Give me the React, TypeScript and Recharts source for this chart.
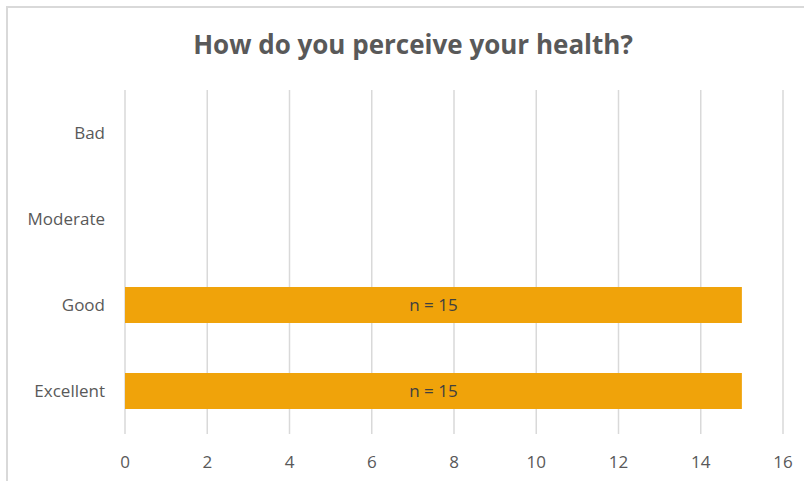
import { BarChart, Bar, XAxis, YAxis, CartesianGrid, LabelList } from 'recharts';

const categories = ['Bad', 'Moderate', 'Good', 'Excellent'];
const counts = [0, 0, 15, 15];
const xTicks = [0, 2, 4, 6, 8, 10, 12, 14, 16];

const rows = categories.map((name, i) => ({ name, count: counts[i] }));

const FONT = '"Open Sans", "Liberation Sans", sans-serif';
const TEXT = '#595959';

export default function App() {
  return (
    <div style={{ position: 'absolute', left: 0, top: 0, width: 804, height: 481, background: '#fff', overflow: 'hidden', fontFamily: FONT }}>
      <div
        style={{
          position: 'absolute',
          left: 6,
          top: 6,
          width: 900,
          height: 600,
          borderLeft: '2px solid #d9d9d9',
          borderTop: '2px solid #d9d9d9',
        }}
      />
      <div
        style={{
          position: 'absolute',
          left: 0,
          width: 826,
          top: 26,
          textAlign: 'center',
          fontSize: 26,
          fontWeight: 700,
          color: TEXT,
        }}
      >
        How do you perceive your health?
      </div>
      <BarChart
        width={804}
        height={481}
        data={rows}
        layout="vertical"
        margin={{ top: 90, right: 21, bottom: 17, left: 0 }}
        style={{ position: 'absolute', left: 0, top: 0 }}
      >
        <CartesianGrid horizontal={false} stroke="#d9d9d9" strokeWidth={1.5} />
        <XAxis
          type="number"
          domain={[0, 16]}
          ticks={xTicks}
          axisLine={false}
          tickLine={false}
          tickSize={0}
          tickMargin={22}
          height={30}
          tick={{ fill: TEXT, fontSize: 17, fontFamily: FONT }}
        />
        <YAxis
          type="category"
          dataKey="name"
          width={125}
          axisLine={false}
          tickLine={false}
          tickSize={0}
          tickMargin={20}
          tick={{ fill: TEXT, fontSize: 17, fontFamily: FONT }}
        />
        <Bar dataKey="count" fill="#f0a30a" barSize={36} isAnimationActive={false}>
          <LabelList
            dataKey="count"
            position="center"
            formatter={(v: any) => (v > 0 ? `n = ${v}` : '')}
            fill="#404040"
            fontSize={17}
            fontFamily={FONT}
          />
        </Bar>
      </BarChart>
    </div>
  );
}
